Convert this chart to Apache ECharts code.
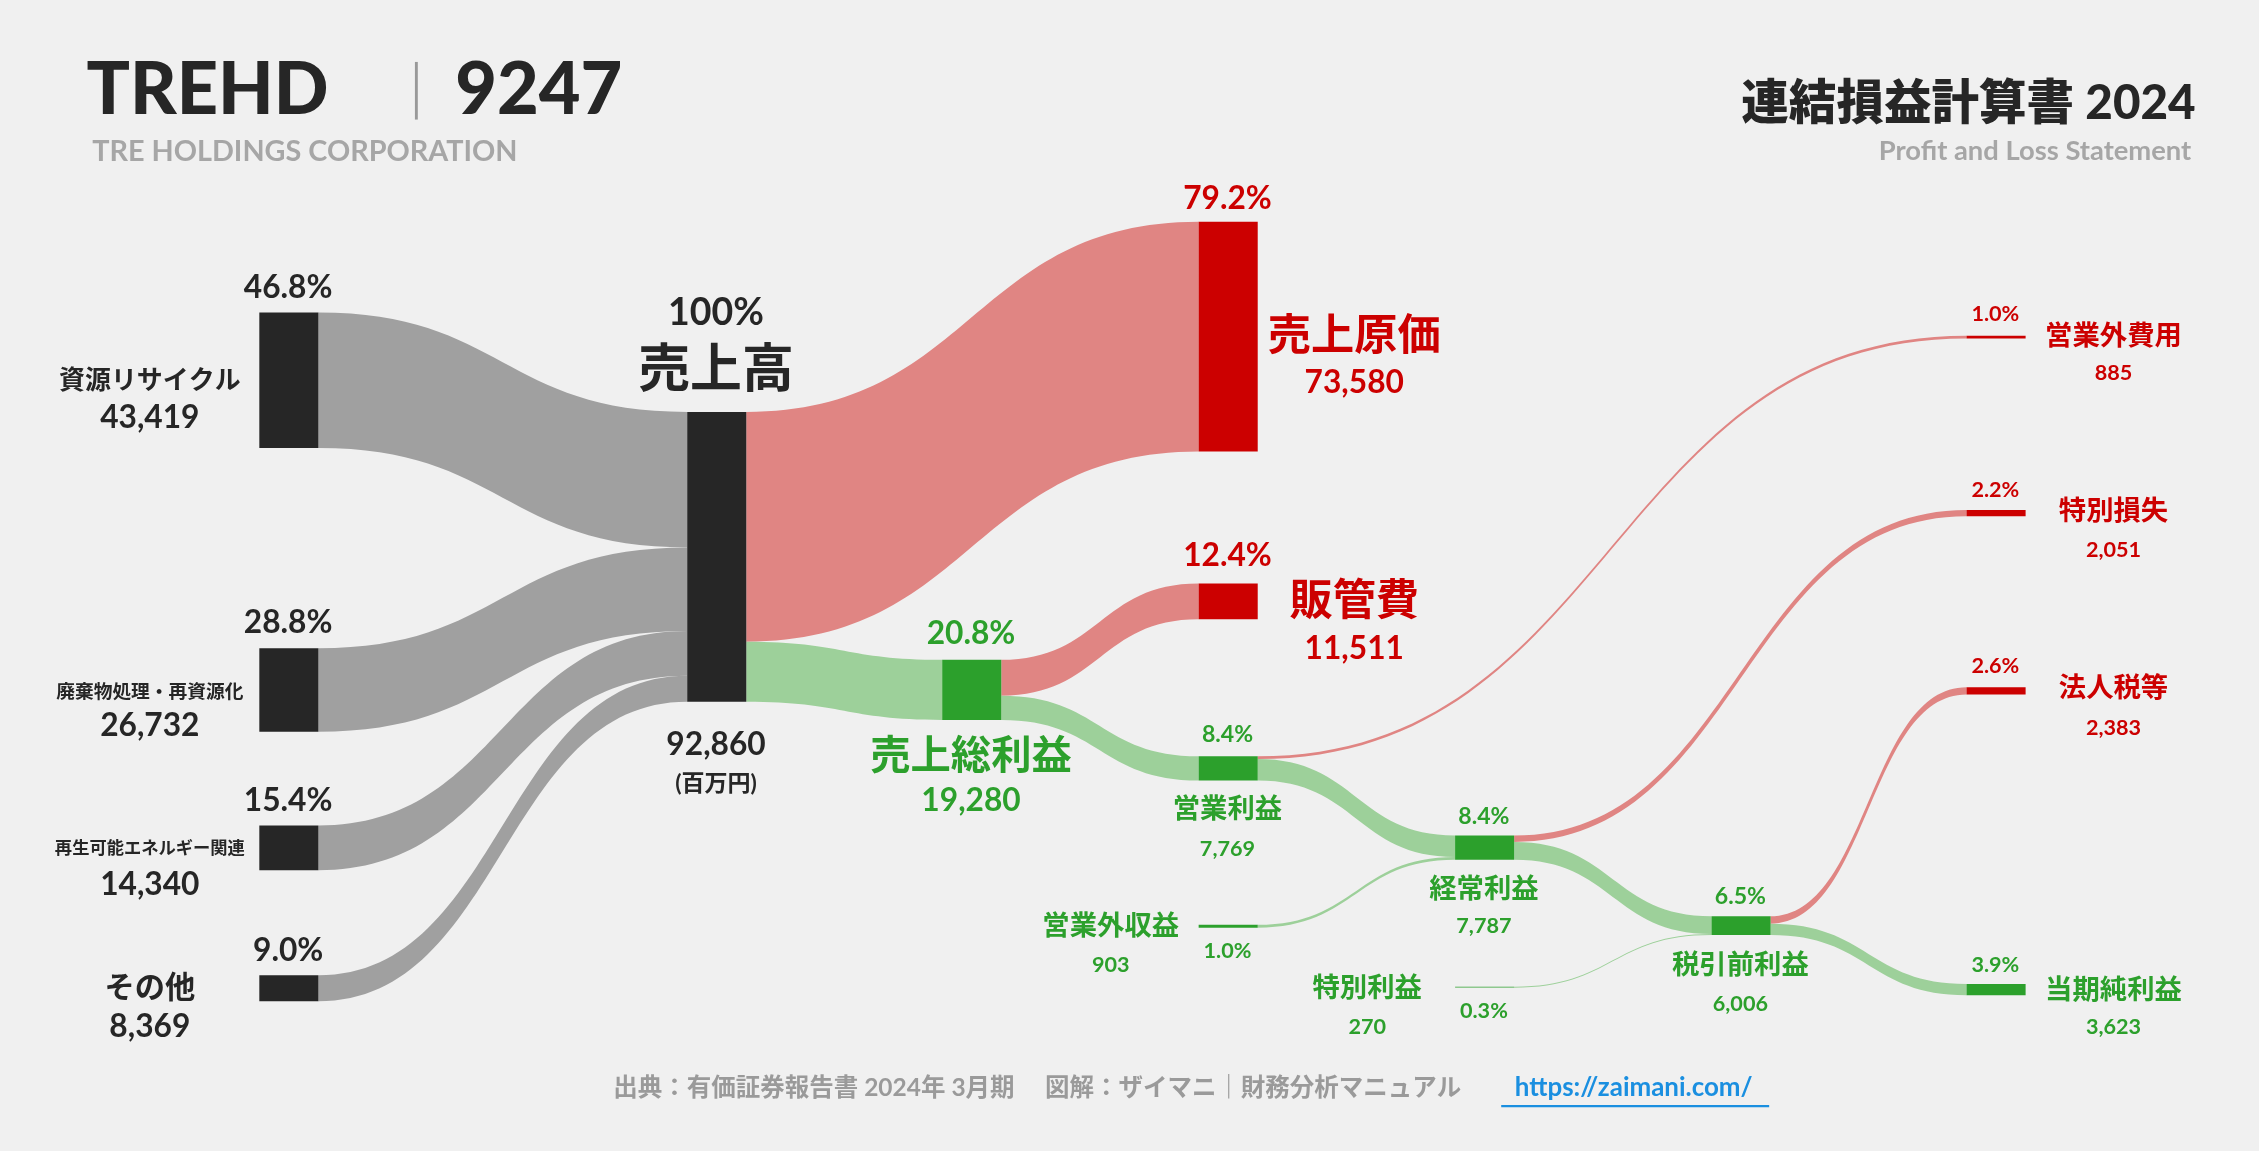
<!DOCTYPE html>
<html><head><meta charset="utf-8">
<script src="https://cdn.jsdelivr.net/npm/echarts@6/dist/echarts.min.js"></script>
<style>html,body{margin:0;padding:0;background:#f0f0f0}#main{width:2259px;height:1151px}</style>
</head><body><div id="main"></div>
<script>
// values in 百万円
const segNames = ['資源リサイクル', '廃棄物処理・再資源化', '再生可能エネルギー関連', 'その他'];
const segValues = [43419, 26732, 14340, 8369];
const segPct = ['46.8%', '28.8%', '15.4%', '9.0%'];

const plNames = ['売上高', '売上原価', '売上総利益', '販管費', '営業利益', '営業外収益', '営業外費用',
  '経常利益', '特別利益', '特別損失', '税引前利益', '法人税等', '当期純利益'];
const plValues = [92860, 73580, 19280, 11511, 7769, 903, 885, 7787, 270, 2051, 6006, 2383, 3623];
const plPct = ['100%', '79.2%', '20.8%', '12.4%', '8.4%', '1.0%', '1.0%', '8.4%', '0.3%', '2.2%', '6.5%', '2.6%', '3.9%'];

const flows = [
  ['資源リサイクル', '売上高', 43419],
  ['廃棄物処理・再資源化', '売上高', 26732],
  ['再生可能エネルギー関連', '売上高', 14340],
  ['その他', '売上高', 8369],
  ['売上高', '売上原価', 73580],
  ['売上高', '売上総利益', 19280],
  ['売上総利益', '販管費', 11511],
  ['売上総利益', '営業利益', 7769],
  ['営業利益', '営業外費用', 885],
  ['営業利益', '経常利益', 6884],
  ['営業外収益', '経常利益', 903],
  ['経常利益', '特別損失', 2051],
  ['経常利益', '税引前利益', 5736],
  ['特別利益', '税引前利益', 270],
  ['税引前利益', '法人税等', 2383],
  ['税引前利益', '当期純利益', 3623]
];

const W = 2259, H = 1151, f = W / 1568;
const DARK = '#262626', RED = '#cc0000', GREEN = '#2ca02c';
const kind = {
  '売上原価': 'r', '販管費': 'r', '営業外費用': 'r', '特別損失': 'r', '法人税等': 'r',
  '売上総利益': 'g', '営業利益': 'g', '営業外収益': 'g', '経常利益': 'g', '特別利益': 'g', '税引前利益': 'g', '当期純利益': 'g'
};
// node placement on the reference picture (x, top y)
const pos = {
  '資源リサイクル': [180, 217], '廃棄物処理・再資源化': [180, 450], '再生可能エネルギー関連': [180, 573], 'その他': [180, 677],
  '売上高': [477, 286], '売上原価': [832, 154], '販管費': [832, 405], '売上総利益': [654, 458],
  '営業利益': [832, 525], '営業外収益': [832, 642], '経常利益': [1010, 580], '特別利益': [1010, 685],
  '営業外費用': [1365, 233], '税引前利益': [1188, 636], '特別損失': [1365, 354], '法人税等': [1365, 477], '当期純利益': [1365, 683]
};
const nodeColor = n => kind[n] === 'r' ? RED : kind[n] === 'g' ? GREEN : DARK;
const linkColor = t => kind[t] === 'r' ? '#e08583' : kind[t] === 'g' ? '#9dd09a' : '#a0a0a0';

// order so that same-column nodes keep top-to-bottom order
const order = ['資源リサイクル', '廃棄物処理・再資源化', '再生可能エネルギー関連', 'その他', '営業外収益', '特別利益',
  '売上高', '売上原価', '売上総利益', '販管費', '営業利益', '営業外費用', '経常利益', '特別損失', '税引前利益', '法人税等', '当期純利益'];
const nodes = order.map(n => ({
  name: n,
  localX: pos[n][0] / 1568,
  localY: pos[n][1] / 799,
  itemStyle: { color: nodeColor(n), borderWidth: 0 }
}));
const links = flows.map(([s, t, v]) => ({
  source: s, target: t, value: v,
  lineStyle: { color: kind[s] === 'g' && kind[t] === 'g' ? '#9dd09a' : linkColor(t), opacity: 1 }
}));

const FONT = 'Lato, "Noto Sans CJK JP", sans-serif';
const fmt = v => v.toLocaleString('en-US');
const txt = (x, y, text, size, color, align = 'center', weight = 'bold') => ({
  type: 'text', x: x * f, y: y * f,
  style: { text, fontSize: size * f, fill: color, fontWeight: weight, fontFamily: FONT, align, verticalAlign: 'middle' }
});

const g = [];
g.push(txt(60, 63, 'TREHD', 50, DARK, 'left', 900));
g.push({ type: 'rect', shape: { x: 288 * f, y: 43 * f, width: 2 * f, height: 40 * f }, style: { fill: '#999' } });
g.push(txt(316, 63, '9247', 50, DARK, 'left', 900));
g.push(txt(64, 105, 'TRE HOLDINGS CORPORATION', 20, '#a6a6a6', 'left'));
g.push(txt(1524, 72, '連結損益計算書 2024', 33, DARK, 'right', 900));
g.push(txt(1521, 105, 'Profit and Loss Statement', 19, '#a6a6a6', 'right'));

// segment labels
const segY = [[200, 264, 290, 18], [432, 480, 504, 13], [556, 589, 614, 12], [660, 686, 713, 21]];
segNames.forEach((n, i) => {
  const [py, ny, vy, ns] = segY[i];
  g.push(txt(200, py, segPct[i], 22, DARK));
  g.push(txt(104, ny, n, ns, DARK));
  g.push(txt(104, vy, fmt(segValues[i]), 22, DARK));
});

// P&L labels: [pctX, pctY, pctSize, nameX, nameY, nameSize, valY, valSize]
const lab = {
  '売上高': [497, 217, 26, 497, 257, 36, 517, 22],
  '売上原価': [852, 138, 22, 940, 233, 30, 266, 22],
  '販管費': [852, 386, 22, 940, 417, 30, 450, 22],
  '売上総利益': [674, 440, 22, 674, 525, 28, 556, 22],
  '営業利益': [852, 510, 16, 852, 562, 19, 589, 15],
  '営業外収益': [852, 660, 15, 771, 643, 19, 670, 15],
  '経常利益': [1030, 567, 16, 1030, 617, 19, 643, 15],
  '特別利益': [1030, 702, 15, 949, 686, 19, 713, 15],
  '税引前利益': [1208, 622, 16, 1208, 670, 19, 697, 15],
  '営業外費用': [1385, 218, 15, 1467, 233, 19, 259, 15],
  '特別損失': [1385, 340, 15, 1467, 355, 19, 382, 15],
  '法人税等': [1385, 462, 15, 1467, 478, 19, 505, 15],
  '当期純利益': [1385, 670, 15, 1467, 687, 19, 713, 15]
};
plNames.forEach((n, i) => {
  const L = lab[n];
  const c = n === '売上高' ? DARK : nodeColor(n);
  g.push(txt(L[0], L[1], plPct[i], L[2], c));
  g.push(txt(L[3], L[4], n, L[5], c));
  g.push(txt(L[3], L[6], fmt(plValues[i]), L[7], c));
});
g.push(txt(497, 544, '(百万円)', 16, DARK));

g.push(txt(720, 755, '出典：有価証券報告書 2024年 3月期　 図解：ザイマニ｜財務分析マニュアル', 17, '#9a9a9a'));
g.push(txt(1134, 755, 'https://zaimani.com/', 18, '#1a8fe0'));
g.push({ type: 'rect', shape: { x: 1042 * f, y: 767 * f, width: 186 * f, height: 1.5 * f }, style: { fill: '#1a8fe0' } });

const chart = echarts.init(document.getElementById('main'));
chart.setOption({
  backgroundColor: '#f0f0f0',
  animation: false,
  graphic: g,
  series: [{
    type: 'sankey',
    left: 0, top: 0, width: W, height: H,
    nodeWidth: 41 * f,
    nodeGap: 171.5,
    nodeAlign: 'left',
    layoutIterations: 0,
    draggable: false,
    label: { show: false },
    emphasis: { disabled: true },
    lineStyle: { curveness: 0.5 },
    data: nodes,
    links: links
  }]
});
window.addEventListener('resize', chart.resize);
</script></body></html>
